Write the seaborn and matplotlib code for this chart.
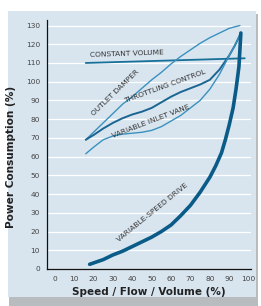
import matplotlib
matplotlib.use("Agg")
import matplotlib.pyplot as plt
import seaborn as sns
from matplotlib.patches import Rectangle

# values (speed % -> power %)
cv_speed = [16, 98]
cv_power = [110, 112.5]

od_speed = [16, 20, 25, 30, 35, 40, 45, 50, 55, 60, 65, 70, 75, 80, 85, 90, 95.5]
od_power = [69, 73, 78, 83, 88, 92, 96.5, 101, 105, 109.5, 113.5, 117, 120.5, 123.5, 126, 128.5, 130]

tc_speed = [16, 20, 25, 30, 35, 40, 45, 50, 55, 60, 65, 70, 75, 80, 85, 90, 93, 96]
tc_power = [69, 71.5, 75, 78, 80.5, 82.5, 84, 86, 89, 92, 94.5, 96.5, 98.5, 101, 106.5, 114, 119.5, 126]

iv_speed = [16, 20, 25, 30, 35, 40, 45, 50, 55, 60, 65, 70, 75, 80, 85, 90, 93, 96]
iv_power = [61.5, 65, 69, 71, 72, 72.5, 73, 74, 76, 79, 82, 86, 90, 96, 104, 114, 119.5, 126]

vsd_speed = [18, 25, 30, 35, 40, 44, 50, 55, 60, 65, 70, 75, 80, 83, 86, 88, 90, 92, 93.5, 95, 96]
vsd_power = [2.5, 5, 7.5, 9.5, 12, 14, 17, 20, 23.5, 28.5, 34, 41, 49, 55, 62, 69, 77, 86, 96, 108, 126]

x_ticks = [0, 10, 20, 30, 40, 50, 60, 70, 80, 90, 100]
y_ticks = [0, 10, 20, 30, 40, 50, 60, 70, 80, 90, 100, 110, 120, 130]

panel = "#d8e5ef"
sns.set_style("white")

fig = plt.figure(figsize=(2.61, 3.06), dpi=100)
fig.patch.set_facecolor("white")

# card background with a grey shadow underneath
bg = fig.add_axes([0, 0, 1, 1], zorder=-1)
bg.axis("off")
bg.set_xlim(0, 1)
bg.set_ylim(0, 1)
bg.add_patch(Rectangle((0.035, 0.0), 0.955, 0.955, facecolor="#b9bcbf", edgecolor="none"))
bg.add_patch(Rectangle((0.03, 0.03), 0.95, 0.935, facecolor=panel, edgecolor="none"))

ax = fig.add_axes([0.18, 0.121, 0.78, 0.814])
ax.set_facecolor(panel)

sns.lineplot(x=cv_speed, y=cv_power, ax=ax, color="#17709a", lw=1.3)
sns.lineplot(x=od_speed, y=od_power, ax=ax, color="#3a90bf", lw=1.0)
sns.lineplot(x=tc_speed, y=tc_power, ax=ax, color="#1a6592", lw=1.4)
sns.lineplot(x=iv_speed, y=iv_power, ax=ax, color="#3a90bf", lw=1.0)
sns.lineplot(x=vsd_speed, y=vsd_power, ax=ax, color="#0b5b88", lw=2.6)

ax.set_xlim(-4, 101)
ax.set_ylim(0, 133)
ax.set_xticks(x_ticks)
ax.set_yticks(y_ticks)
ax.tick_params(axis="both", length=0, labelsize=5.3, colors="#444444", pad=5)
for y in y_ticks[1:]:
    ax.axhline(y, color="white", lw=0.9, zorder=0.5)

for s in ["top", "right"]:
    ax.spines[s].set_visible(False)
ax.spines["left"].set_color("#111111")
ax.spines["bottom"].set_color("#111111")
ax.spines["left"].set_linewidth(0.9)
ax.spines["bottom"].set_linewidth(0.9)

ax.set_xlabel("Speed / Flow / Volume (%)", fontsize=7.5, fontweight="bold", color="#222222", labelpad=4)
ax.set_ylabel("Power Consumption (%)", fontsize=7.6, fontweight="bold", color="#222222")
ax.yaxis.set_label_coords(-0.15, 0.45)

lab = dict(fontsize=5.4, color="#333333", ha="center", va="center", rotation_mode="anchor")
ax.text(37, 115, "CONSTANT VOLUME", rotation=2, **lab)
ax.text(31.5, 94, "OUTLET DAMPER", rotation=44, **lab)
ax.text(57, 97.5, "THROTTLING CONTROL", rotation=20, **lab)
ax.text(49.5, 79, "VARIABLE INLET VANE", rotation=21, **lab)
ax.text(50.5, 30, "VARIABLE-SPEED DRIVE", rotation=39, **lab)

fig.savefig("out.png", dpi=100, facecolor=fig.get_facecolor())
